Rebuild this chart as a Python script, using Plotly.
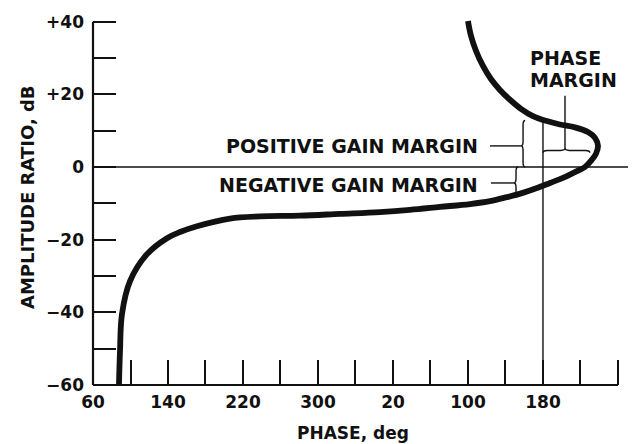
import plotly.graph_objects as go

# ---- data ----
phase_deg = [87.7, 88.8, 90.9, 99.5, 117.6, 138.9, 152.8, 170.9, 206.1, 238.1, 280.8, 323.5, 366.1,
             398.1, 430.1, 462.1, 483.5, 501.6, 517.6, 533.6, 547.5, 561.3, 574.1, 584.8, 591.2,
             596.5, 598.7, 595.5, 588.0, 574.1, 558.1, 543.2, 529.3, 516.5, 504.8, 494.1, 484.5,
             476.0, 468.5, 463.2, 460.0]
gain_db = [-60.0, -50.7, -40.5, -31.4, -24.0, -19.6, -17.9, -16.3, -14.2, -13.6, -13.4, -12.9, -12.4,
           -11.8, -11.0, -10.2, -9.4, -8.3, -7.2, -5.8, -4.4, -3.0, -1.4, 0.0, 1.65,
           3.6, 5.8, 8.0, 9.6, 10.9, 11.7, 12.7, 14.0, 16.0, 18.5, 21.2, 24.2,
           27.8, 32.0, 36.1, 40.2]

x_tickvals = [60, 140, 220, 300, 380, 460, 540, 620]
x_ticktext = ["60", "140", "220", "300", "20", "100", "180", "260"]
y_tickvals = [-60, -40, -20, 0, 20, 40]
y_ticktext = ["\u221260", "\u221240", "\u221220", "0", "+20", "+40"]

# annotation anchors (data units)
crossover_phase = 540          # -180 deg line
pm_leader_phase = 563.5
pm_brace_db = 3.9
pm_brace_right = 590
pgm_phase = 521
pgm_top_db = 12.8
pgm_tip_db = 5.8
ngm_phase = 513.5
ngm_bottom_db = -7.8
ngm_tip_db = -4.4

XMIN, XMAX = 60, 630.7
YMIN, YMAX = -60, 41

INK = "#111111"
FONT = "DejaVu Sans"

def px(v):
    return (v - XMIN) / (XMAX - XMIN)

def py(v):
    return (v - YMIN) / (YMAX - YMIN)

def vbrace(x, y0, y1, ym, d=4.5, h=1.2):
    # "{" shaped vertical brace, tip pointing to -x
    xm = x - d / 2
    return (f"M {x},{y0} Q {xm},{y0} {xm},{y0 + h} L {xm},{ym - h} "
            f"Q {xm},{ym} {x - d},{ym} Q {xm},{ym} {xm},{ym + h} "
            f"L {xm},{y1 - h} Q {xm},{y1} {x},{y1}")

def hbrace(x0, x1, y, xm_tip, d=1.3, h=4.5):
    # horizontal brace, tip pointing up (+y)
    ym = y + d / 2
    return (f"M {x0},{y} Q {x0},{ym} {x0 + h},{ym} L {xm_tip - h},{ym} "
            f"Q {xm_tip},{ym} {xm_tip},{y + d} Q {xm_tip},{ym} {xm_tip + h},{ym} "
            f"L {x1 - h},{ym} Q {x1},{ym} {x1},{y}")

fig = go.Figure()
fig.add_trace(go.Scatter(
    x=phase_deg, y=gain_db, mode="lines",
    line=dict(color=INK, width=5.8, shape="spline", smoothing=1.0),
    hoverinfo="skip", showlegend=False,
))

shapes = [
    # axis lines
    dict(type="line", xref="paper", yref="paper", x0=0, x1=0, y0=py(-60), y1=py(40),
         line=dict(color=INK, width=2.2)),
    dict(type="line", xref="paper", yref="paper", x0=0, x1=px(620), y0=0, y1=0,
         line=dict(color=INK, width=2.2)),
    # 0 dB line
    dict(type="line", xref="x", yref="y", x0=XMIN, x1=XMAX, y0=0, y1=0,
         line=dict(color=INK, width=1.4)),
    # -180 deg line
    dict(type="line", xref="x", yref="y", x0=crossover_phase, x1=crossover_phase, y0=-60, y1=12.3,
         line=dict(color=INK, width=1.4)),
    # phase margin leader + brace
    dict(type="line", xref="x", yref="y", x0=pm_leader_phase, x1=pm_leader_phase, y0=19.6, y1=pm_brace_db + 1.3,
         line=dict(color=INK, width=1.4)),
    dict(type="path", xref="x", yref="y", path=hbrace(crossover_phase, pm_brace_right, pm_brace_db, pm_leader_phase),
         line=dict(color=INK, width=1.4)),
    # positive gain margin brace + leader
    dict(type="path", xref="x", yref="y", path=vbrace(pgm_phase, 0, pgm_top_db, pgm_tip_db),
         line=dict(color=INK, width=1.4)),
    dict(type="line", xref="x", yref="y", x0=483.5, x1=pgm_phase - 4.5, y0=pgm_tip_db, y1=pgm_tip_db,
         line=dict(color=INK, width=1.4)),
    # negative gain margin brace + leader
    dict(type="path", xref="x", yref="y", path=vbrace(ngm_phase, ngm_bottom_db, 0, ngm_tip_db),
         line=dict(color=INK, width=1.4)),
    dict(type="line", xref="x", yref="y", x0=484.5, x1=ngm_phase - 4.5, y0=ngm_tip_db, y1=ngm_tip_db,
         line=dict(color=INK, width=1.4)),
]

afont = dict(family=FONT, size=19, color=INK, weight="bold")
annotations = [
    dict(x=472.8, y=5.8, xref="x", yref="y", text="POSITIVE GAIN MARGIN", showarrow=False,
         xanchor="right", yanchor="middle", font=afont),
    dict(x=472.8, y=-4.9, xref="x", yref="y", text="NEGATIVE GAIN MARGIN", showarrow=False,
         xanchor="right", yanchor="middle", font=afont),
    dict(x=523.5, y=30.0, xref="x", yref="y", text="PHASE", showarrow=False,
         xanchor="left", yanchor="middle", font=afont),
    dict(x=523.5, y=24.0, xref="x", yref="y", text="MARGIN", showarrow=False,
         xanchor="left", yanchor="middle", font=afont),
    dict(x=(27 - 93) / 535, y=(385 - 197) / 367, xref="paper", yref="paper",
         text="AMPLITUDE RATIO, dB", textangle=-90, showarrow=False,
         xanchor="center", yanchor="middle", font=dict(family=FONT, size=18, color=INK, weight="bold")),
    dict(x=(353 - 93) / 535, y=(385 - 433) / 367, xref="paper", yref="paper",
         text="PHASE, deg", showarrow=False,
         xanchor="center", yanchor="middle", font=dict(family=FONT, size=17, color=INK, weight="bold")),
]

tickfont = dict(family=FONT, size=17, color=INK, weight="bold")
fig.update_layout(
    width=633, height=444,
    margin=dict(l=93, r=5, t=18, b=59),
    paper_bgcolor="white", plot_bgcolor="white",
    shapes=shapes, annotations=annotations,
    xaxis=dict(range=[XMIN, XMAX], tickvals=x_tickvals, ticktext=x_ticktext,
               ticks="inside", ticklen=25, tickwidth=1.5, tickcolor=INK,
               minor=dict(ticks="inside", ticklen=25, tickwidth=1.5, tickcolor=INK, tick0=60, dtick=40),
               showgrid=False, zeroline=False, showline=False, tickfont=tickfont,
               ticklabelstandoff=5, fixedrange=True),
    yaxis=dict(range=[YMIN, YMAX], tickvals=y_tickvals, ticktext=y_ticktext,
               ticks="inside", ticklen=23, tickwidth=1.5, tickcolor=INK,
               minor=dict(ticks="inside", ticklen=23, tickwidth=1.5, tickcolor=INK, tick0=-60, dtick=10),
               showgrid=False, zeroline=False, showline=False, tickfont=tickfont,
               ticklabelstandoff=8, fixedrange=True),
)

fig.write_html("out.html", config={"displayModeBar": False},
               post_script="document.body.style.margin='0';")
